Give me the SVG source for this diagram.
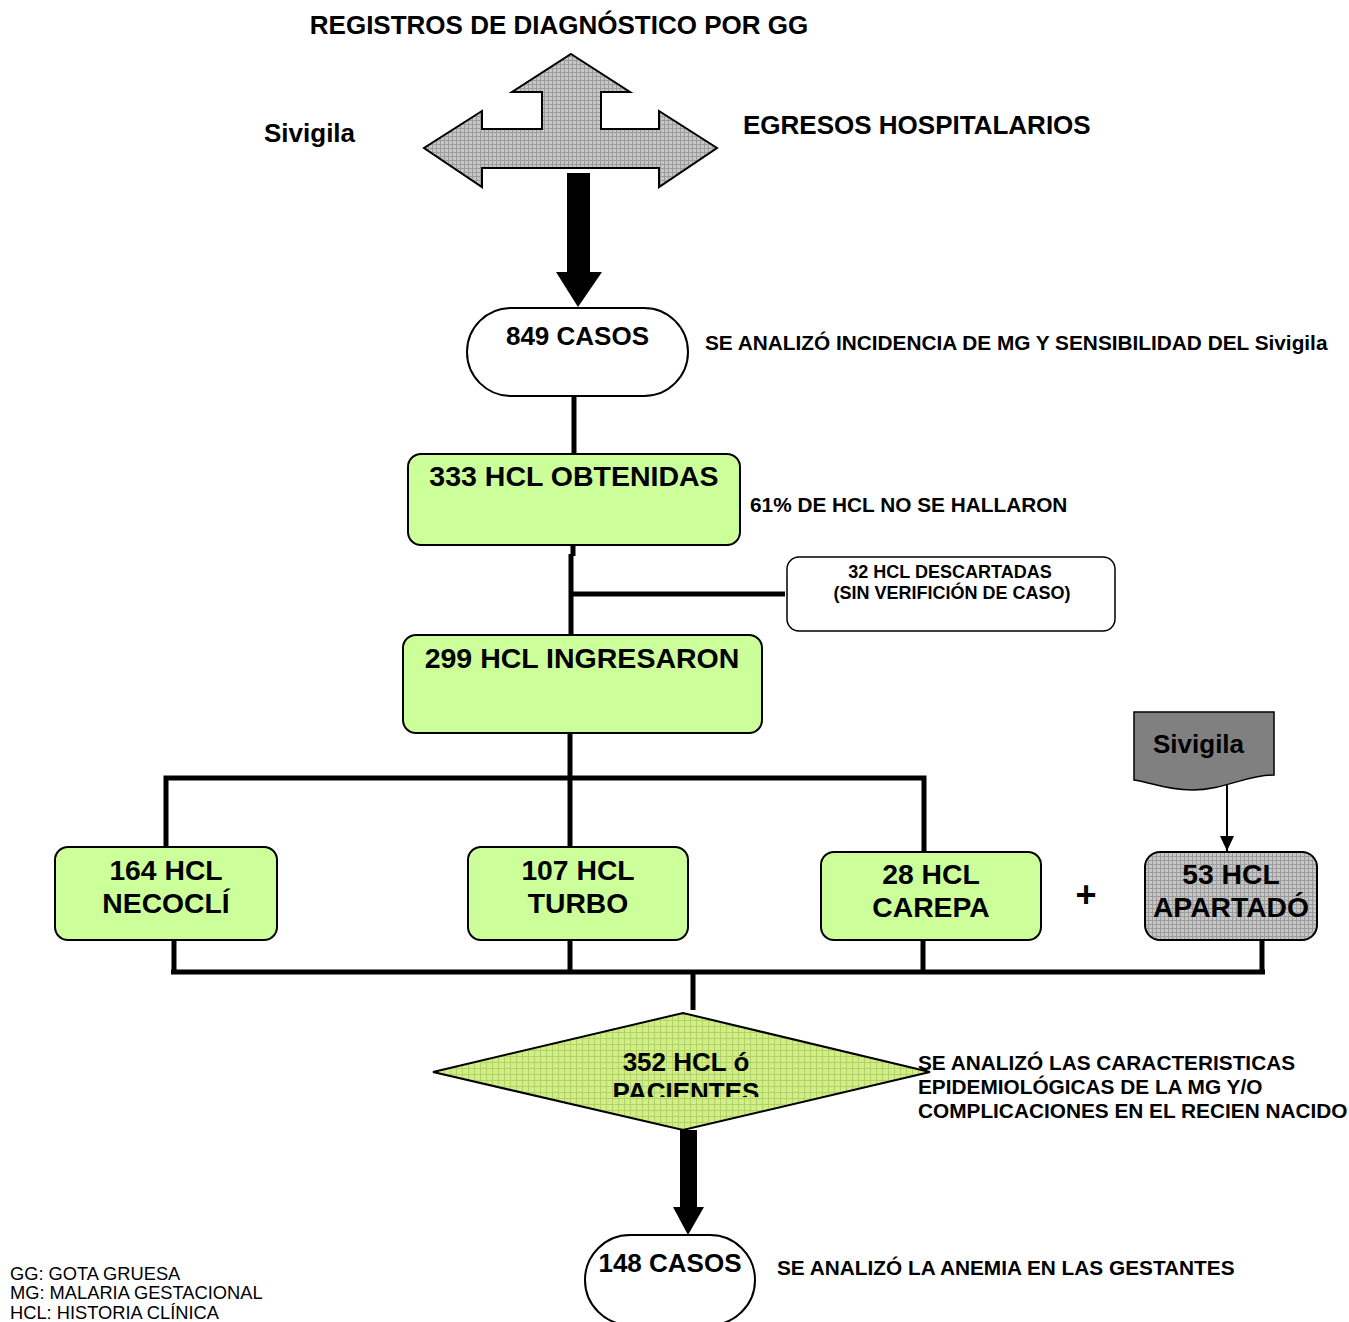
<svg xmlns="http://www.w3.org/2000/svg" width="1349" height="1322" viewBox="0 0 1349 1322">
<defs>
<style>
text{font-family:"Liberation Sans",Arial,sans-serif;font-weight:bold;fill:#000}
.c{text-anchor:middle}
.big{font-size:28.3px}
.mid{font-size:26px}
.note{font-size:20.8px}
.leg{font-size:18.3px;font-weight:normal}
.box{fill:#CCFF99;stroke:#000;stroke-width:2}
.ln{stroke:#000;stroke-width:5;fill:none}
</style>
<pattern id="hg" width="4" height="4" patternUnits="userSpaceOnUse"><rect width="4" height="4" fill="#c6c6c6"/><path d="M0 0.5H4M0.5 0V4" stroke="#9c9c9c" stroke-width="1"/></pattern>
<pattern id="gg" width="6" height="6" patternUnits="userSpaceOnUse"><rect width="6" height="6" fill="#d2ee88"/><path d="M0 0.5H6M0.5 0V6" stroke="#b2d266" stroke-width="1"/></pattern>
<clipPath id="dclip"><rect x="430" y="1000" width="510" height="97"/></clipPath>
<marker id="ah" markerWidth="16" markerHeight="14" refX="15" refY="7" orient="auto" markerUnits="userSpaceOnUse"><path d="M0,0 L15,7 L0,14 Z" fill="#000"/></marker>
</defs>

<text x="559" y="34" class="c mid">REGISTROS DE DIAGNÓSTICO POR GG</text>
<text x="264" y="142" class="mid">Sivigila</text>
<text x="743" y="134" class="mid">EGRESOS HOSPITALARIOS</text>

<g id="sources">
<polygon points="571,54 630,92 601,92 601,129 659,129 659,111 717,148 659,187 659,168 482,168 482,187 424,148 482,111 482,129 542,129 542,92 512,92" fill="url(#hg)" stroke="#000" stroke-width="2"/>
</g>

<g id="connectors">
<polygon points="567,173 590,173 590,272 602,272 578,307 556,272 567,272" fill="#000"/>
<line class="ln" x1="574" y1="396" x2="574" y2="456"/>
<line class="ln" x1="573" y1="545" x2="573" y2="556"/>
<line class="ln" x1="571" y1="554" x2="571" y2="636"/>
<line class="ln" x1="569" y1="594" x2="785" y2="594"/>
<line class="ln" x1="570" y1="733" x2="570" y2="778"/>
<polyline class="ln" points="166,848 166,778 924,778 924,853"/>
<line class="ln" x1="570" y1="778" x2="570" y2="848"/>
<line class="ln" x1="174" y1="939" x2="174" y2="972"/>
<line class="ln" x1="570" y1="939" x2="570" y2="972"/>
<line class="ln" x1="923" y1="939" x2="923" y2="972"/>
<line class="ln" x1="1262" y1="939" x2="1262" y2="972"/>
<line class="ln" x1="171" y1="972" x2="1265" y2="972"/>
<line class="ln" x1="693" y1="972" x2="693" y2="1010"/>
<line x1="1227" y1="783" x2="1227" y2="851" stroke="#000" stroke-width="2" marker-end="url(#ah)"/>
<polygon points="680,1130 697,1130 697,1207 704,1207 688,1235 673,1207 680,1207" fill="#000"/>
</g>

<g id="n849">
<rect x="467" y="308" width="221" height="88" rx="44" fill="#fff" stroke="#000" stroke-width="2"/>
<text x="577.5" y="345" class="c mid">849 CASOS</text>
</g>
<text x="705" y="350" class="note">SE ANALIZÓ INCIDENCIA DE MG Y SENSIBILIDAD DEL Sivigila</text>

<g id="n333">
<rect x="408" y="454" width="332" height="91" rx="13" class="box"/>
<text x="574" y="486" class="c" style="font-size:28.5px">333 HCL OBTENIDAS</text>
</g>
<text x="750" y="512" class="note">61% DE HCL NO SE HALLARON</text>

<g id="n32">
<rect x="787" y="557" width="328" height="74" rx="12" fill="#fff" stroke="#000" stroke-width="1.5"/>
<text x="950" y="578" class="c" style="font-size:18px">32 HCL DESCARTADAS</text>
<text x="952" y="599" class="c" style="font-size:18px">(SIN VERIFICIÓN DE CASO)</text>
</g>

<g id="n299">
<rect x="403" y="635" width="359" height="98" rx="13" class="box"/>
<text x="582" y="668" class="c" style="font-size:28.5px">299 HCL INGRESARON</text>
</g>

<g id="nNecocli">
<rect x="55" y="847" width="222" height="93" rx="13" class="box"/>
<text x="166" y="880" class="c big">164 HCL</text>
<text x="166" y="913" class="c big">NECOCLÍ</text>
</g>

<g id="nTurbo">
<rect x="468" y="847" width="220" height="93" rx="13" class="box"/>
<text x="578" y="880" class="c big">107 HCL</text>
<text x="578" y="913" class="c big">TURBO</text>
</g>

<g id="nCarepa">
<rect x="821" y="852" width="220" height="88" rx="13" class="box"/>
<text x="931" y="884" class="c big">28 HCL</text>
<text x="931" y="917" class="c big">CAREPA</text>
</g>

<text x="1086" y="907" class="c" style="font-size:36px">+</text>

<g id="nSivigilaDoc">
<path d="M1134,712 H1274 V775 C1245,775 1225,790 1192,790 C1165,790 1150,782 1134,780 Z" fill="#808080" stroke="#000" stroke-width="1.5"/>
<text x="1153" y="753" class="mid">Sivigila</text>
</g>

<g id="nApartado">
<rect x="1145" y="852" width="172" height="88" rx="15" fill="url(#hg)" stroke="#000" stroke-width="2"/>
<text x="1231" y="884" class="c big">53 HCL</text>
<text x="1231" y="917" class="c big">APARTADÓ</text>
</g>

<g id="n352">
<polygon points="433,1072 683,1013 930,1072 683,1130" fill="url(#gg)" stroke="#000" stroke-width="2"/>
<g clip-path="url(#dclip)">
<text x="686" y="1071" class="c mid">352 HCL ó</text>
<text x="686" y="1101" class="c mid">PACIENTES</text>
</g>
</g>
<text x="918" y="1070" class="note">SE ANALIZÓ LAS CARACTERISTICAS</text>
<text x="918" y="1094" class="note">EPIDEMIOLÓGICAS DE LA MG Y/O</text>
<text x="918" y="1118" class="note">COMPLICACIONES EN EL RECIEN NACIDO</text>

<g id="n148">
<rect x="585" y="1235" width="170" height="90" rx="45" fill="#fff" stroke="#000" stroke-width="2"/>
<text x="670" y="1272" class="c mid">148 CASOS</text>
</g>
<text x="777" y="1275" class="note">SE ANALIZÓ LA ANEMIA EN LAS GESTANTES</text>

<g id="legend">
<text x="10" y="1280" class="leg">GG: GOTA GRUESA</text>
<text x="10" y="1299" class="leg">MG: MALARIA GESTACIONAL</text>
<text x="10" y="1319" class="leg">HCL: HISTORIA CLÍNICA</text>
</g>
</svg>
